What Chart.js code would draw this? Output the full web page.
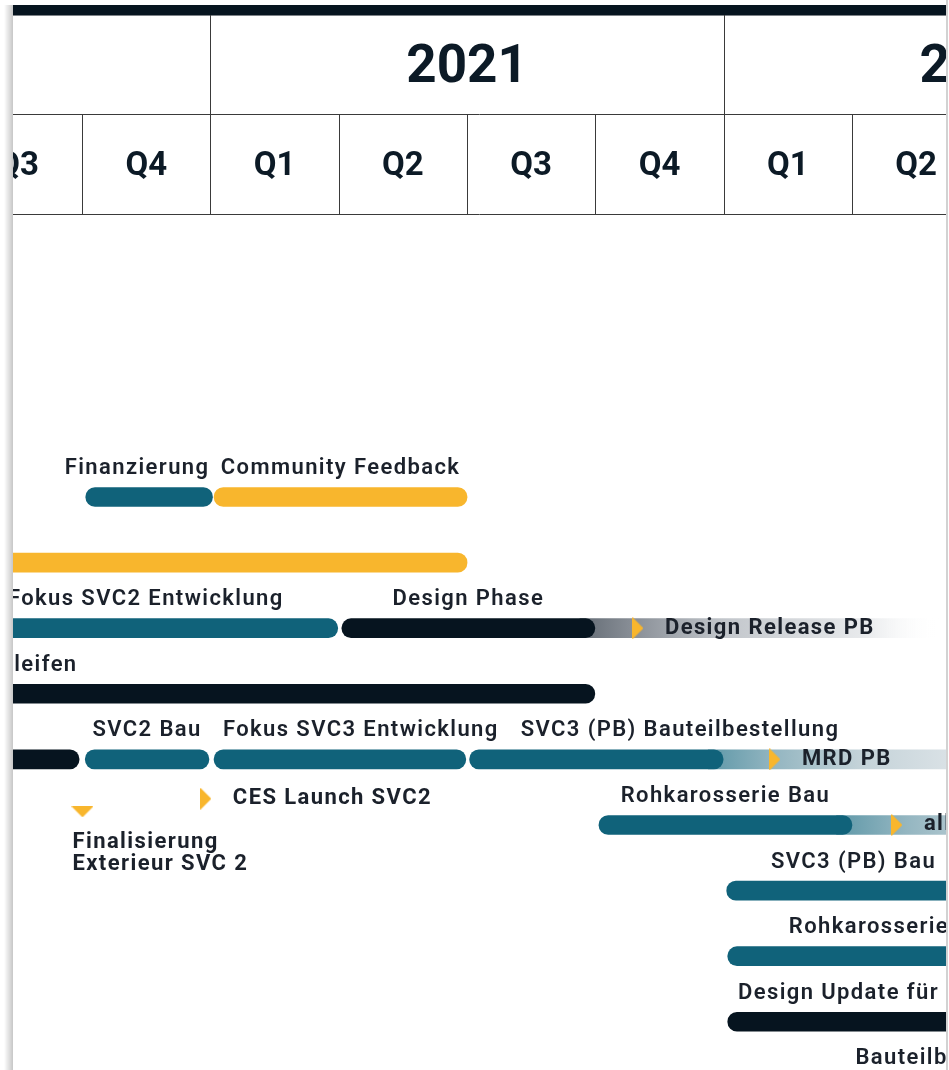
<!DOCTYPE html>
<html lang="de">
<head>
<meta charset="utf-8">
<title>Roadmap SVC</title>
<script src="https://cdn.jsdelivr.net/npm/chart.js@4.4.1/dist/chart.umd.min.js"></script>
<style>
    html, body { margin: 0; padding: 0; background: #ffffff; }
    #roadmap { display: block; }
</style>
</head>
<body>
<canvas id="roadmap" width="949" height="1070"></canvas>
<script>
// Zeitachse (Jahre als Dezimalzahl)
const yearLabels = ['2020', '2021', '2022'];
const quarterLabels = ['Q1', 'Q2', 'Q3', 'Q4'];

// Phasen
const taskNames = [
    'Finanzierung', 'Community Feedback', '',
    'Fokus SVC2 Entwicklung', 'Design Phase',
    'Feedbackschleifen',
    '', 'SVC2 Bau', 'Fokus SVC3 Entwicklung', 'SVC3 (PB) Bauteilbestellung',
    'Rohkarosserie Bau', 'SVC3 (PB) Bau', 'Rohkarosserie Bau',
    'Design Update für SVC3', 'Bauteilbestellung',
];
const taskStart = [
    2020.757, 2021.007, 2020.25,
    2020.5, 2021.256,
    2020.25,
    2020.25, 2020.756, 2021.007, 2021.505,
    2021.757, 2022.006, 2022.008,
    2022.008, 2022.25,
];
const taskEnd = [
    2021.004, 2021.5, 2021.5,
    2021.248, 2021.749,
    2021.749,
    2020.744, 2020.997, 2021.4975, 2021.999,
    2022.25, 2022.5, 2022.654,
    2022.57, 2022.645,
];
const taskRow = [0, 0, 1, 2, 2, 3, 4, 4, 4, 4, 5, 6, 7, 8, 9];
const taskGroup = [
    'finance', 'community', 'community',
    'dev', 'design',
    'design',
    'design', 'dev', 'dev', 'dev',
    'dev', 'dev', 'dev',
    'design', 'dev',
];
// Beschriftung nicht mittig über dem Balken
const taskLabelAt = [2020.857, null, null, null, null, 2020.741, null, null, 2021.293, 2021.915, null, null, null, null, null];
const taskLabelRight = ['Feedbackschleifen'];

// Ausblendende Übergänge hinter den Meilensteinen
const bandStart = [2021.72, 2021.97, 2022.22];
const bandEnd = [2022.42, 2022.62, 2022.9];
const bandRow = [2, 4, 5];
const bandGroup = ['design', 'dev', 'dev'];

// Meilensteine
const milestoneNames = ['Design Release PB', 'MRD PB', 'alle Bauteile', 'CES Launch SVC2', 'Finalisierung\nExterieur SVC 2'];
const milestoneAt = [2021.833, 2022.1, 2022.3376, 2020.991, 2020.7506];
const milestoneRow = [2, 4, 5, 4.6, 4.8];
const milestoneDir = ['right', 'right', 'right', 'right', 'down'];

const COLORS = {
    navy: '#06141f',
    teal: '#10627a',
    yellow: '#f8b62d',
    ink: '#1b212b',
    headerInk: '#0c1a26',
    rule: '#3a3a3a',
    frame: '#d2d2d2',
};

const GROUP_COLORS = {
    finance: COLORS.teal,
    dev: COLORS.teal,
    design: COLORS.navy,
    community: COLORS.yellow,
};

const BAND_STOPS = {
    design: [[0, '#646c75'], [0.14, '#878d95'], [0.4, '#c2c6cb'], [0.8, '#e9ebed'], [1, 'rgba(255, 255, 255, 0)']],
    dev: [[0, '#5f98a8'], [0.2, '#94b6c1'], [0.45, '#c3d2d8'], [0.75, '#dce3e7'], [1, '#eef1f3']],
};

const HEADER = { top: 5, bar: 15, mid: 114, bottom: 214 };

function triangleImage(dir) {
    const c = document.createElement('canvas');
    const w = dir === 'down' ? 22 : 11;
    const h = dir === 'down' ? 11 : 22;
    c.width = w;
    c.height = h;
    const g = c.getContext('2d');
    g.fillStyle = COLORS.yellow;
    g.beginPath();
    if (dir === 'down') {
        g.moveTo(0, 0); g.lineTo(w, 0); g.lineTo(w / 2, h);
    } else {
        g.moveTo(0, 0); g.lineTo(w, h / 2); g.lineTo(0, h);
    }
    g.closePath();
    g.fill();
    return c;
}

const MARKERS = { right: triangleImage('right'), down: triangleImage('down') };

function bandColor(context) {
    const { chart, raw, dataIndex } = context;
    if (!chart.chartArea || !raw) {
        return COLORS.frame;
    }
    const x = chart.scales.x;
    const x0 = x.getPixelForValue(raw.x[0]);
    const x1 = x.getPixelForValue(raw.x[1]);
    const gradient = chart.ctx.createLinearGradient(x0, 0, x1, 0);
    BAND_STOPS[bandGroup[dataIndex]].forEach(([at, color]) => gradient.addColorStop(at, color));
    return gradient;
}

const headerPlugin = {
    id: 'roadmapHeader',
    beforeDraw(chart) {
        const { ctx, chartArea, scales: { x } } = chart;
        const left = chartArea.left;
        const right = chartArea.right;

        ctx.save();
        // Seitenrand mit Schatten
        const shadow = ctx.createLinearGradient(4, 0, left, 0);
        shadow.addColorStop(0, 'rgba(0, 0, 0, 0)');
        shadow.addColorStop(1, 'rgba(0, 0, 0, 0.22)');
        ctx.fillStyle = shadow;
        ctx.fillRect(4, HEADER.top, left - 4, chart.height);
        ctx.fillStyle = COLORS.frame;
        ctx.fillRect(right, 0, 2, chart.height);

        ctx.fillStyle = COLORS.navy;
        ctx.fillRect(left, HEADER.top, right - left, HEADER.bar - HEADER.top);
        ctx.fillStyle = '#7d8287';
        ctx.fillRect(left, HEADER.bar, right - left, 1);

        ctx.beginPath();
        ctx.rect(left, 0, right - left, HEADER.bottom + 1);
        ctx.clip();

        ctx.strokeStyle = COLORS.rule;
        ctx.lineWidth = 1;
        ctx.beginPath();
        ctx.moveTo(left, HEADER.mid + 0.5);
        ctx.lineTo(right, HEADER.mid + 0.5);
        ctx.moveTo(left, HEADER.bottom + 0.5);
        ctx.lineTo(right, HEADER.bottom + 0.5);
        yearLabels.forEach((label) => {
            const year = Number(label);
            const px = Math.round(x.getPixelForValue(year)) + 0.5;
            ctx.moveTo(px, HEADER.bar);
            ctx.lineTo(px, HEADER.bottom);
            quarterLabels.forEach((q, k) => {
                const qx = Math.round(x.getPixelForValue(year + k / 4)) + 0.5;
                ctx.moveTo(qx, HEADER.mid);
                ctx.lineTo(qx, HEADER.bottom);
            });
        });
        ctx.stroke();

        ctx.fillStyle = COLORS.headerInk;
        ctx.textAlign = 'center';
        ctx.textBaseline = 'middle';
        yearLabels.forEach((label) => {
            const year = Number(label);
            ctx.font = '700 53px Roboto';
            ctx.fillText(label, x.getPixelForValue(year + 0.5), 69);
            ctx.font = '700 33px Roboto';
            quarterLabels.forEach((q, k) => {
                ctx.fillText(q, x.getPixelForValue(year + (k + 0.5) / 4), 167);
            });
        });
        ctx.restore();
    },
};

const labelPlugin = {
    id: 'roadmapLabels',
    afterDatasetsDraw(chart) {
        const { ctx, chartArea, scales: { x, y } } = chart;
        ctx.save();
        ctx.beginPath();
        ctx.rect(chartArea.left, chartArea.top, chartArea.right - chartArea.left, chartArea.bottom - chartArea.top);
        ctx.clip();
        ctx.fillStyle = COLORS.ink;
        ctx.textBaseline = 'middle';

        ctx.font = '600 22px Roboto';
        ctx.letterSpacing = '1.4px';
        taskNames.forEach((name, i) => {
            if (!name) {
                return;
            }
            const at = taskLabelAt[i] ?? (taskStart[i] + taskEnd[i]) / 2;
            ctx.textAlign = taskLabelRight.includes(name) ? 'right' : 'center';
            ctx.fillText(name, x.getPixelForValue(at), y.getPixelForValue(taskRow[i]) - 28.5);
        });

        ctx.font = '700 22px Roboto';
        ctx.letterSpacing = '1.4px';
        ctx.textAlign = 'left';
        milestoneNames.forEach((name, i) => {
            const px = x.getPixelForValue(milestoneAt[i]);
            const py = y.getPixelForValue(milestoneRow[i]);
            if (milestoneDir[i] === 'down') {
                name.split('\n').forEach((line, k) => {
                    ctx.fillText(line, px - 10, py + 31 + k * 22);
                });
            } else {
                ctx.fillText(name, px + 27, py);
            }
        });
        ctx.restore();
    },
};

function initRoadmap() {
    const canvas = document.getElementById('roadmap');
    const context = canvas.getContext('2d');

    new Chart(context, {
        type: 'bar',
        data: {
            datasets: [
                {
                    type: 'scatter',
                    label: 'Meilensteine',
                    order: 0,
                    data: milestoneAt.map((at, i) => ({ x: at, y: milestoneRow[i] })),
                    pointStyle: milestoneDir.map((dir) => MARKERS[dir]),
                    pointRadius: 11,
                },
                {
                    label: 'Phasen',
                    order: 1,
                    indexAxis: 'y',
                    grouped: false,
                    data: taskStart.map((start, i) => ({ x: [start, taskEnd[i]], y: taskRow[i] })),
                    backgroundColor: taskGroup.map((group) => GROUP_COLORS[group]),
                    borderRadius: 10,
                    borderSkipped: false,
                    barThickness: 19,
                },
                {
                    label: 'Übergänge',
                    order: 2,
                    indexAxis: 'y',
                    grouped: false,
                    data: bandStart.map((start, i) => ({ x: [start, bandEnd[i]], y: bandRow[i] })),
                    backgroundColor: bandColor,
                    borderSkipped: false,
                    barThickness: 19,
                },
            ],
        },
        options: {
            responsive: false,
            animation: false,
            events: [],
            layout: {
                padding: { top: HEADER.bottom, left: 13, right: 3, bottom: 0 },
                autoPadding: false,
            },
            plugins: {
                legend: { display: false },
                tooltip: { enabled: false },
            },
            scales: {
                x: {
                    type: 'linear',
                    display: false,
                    offset: false,
                    bounds: 'data',
                    min: 2020.6152,
                    max: 2022.4333,
                },
                y: {
                    type: 'linear',
                    display: false,
                    offset: false,
                    bounds: 'data',
                    reverse: true,
                    min: -4.314,
                    max: 8.735,
                },
            },
        },
        plugins: [headerPlugin, labelPlugin],
    });
}

document.addEventListener('DOMContentLoaded', initRoadmap);
</script>
</body>
</html>
